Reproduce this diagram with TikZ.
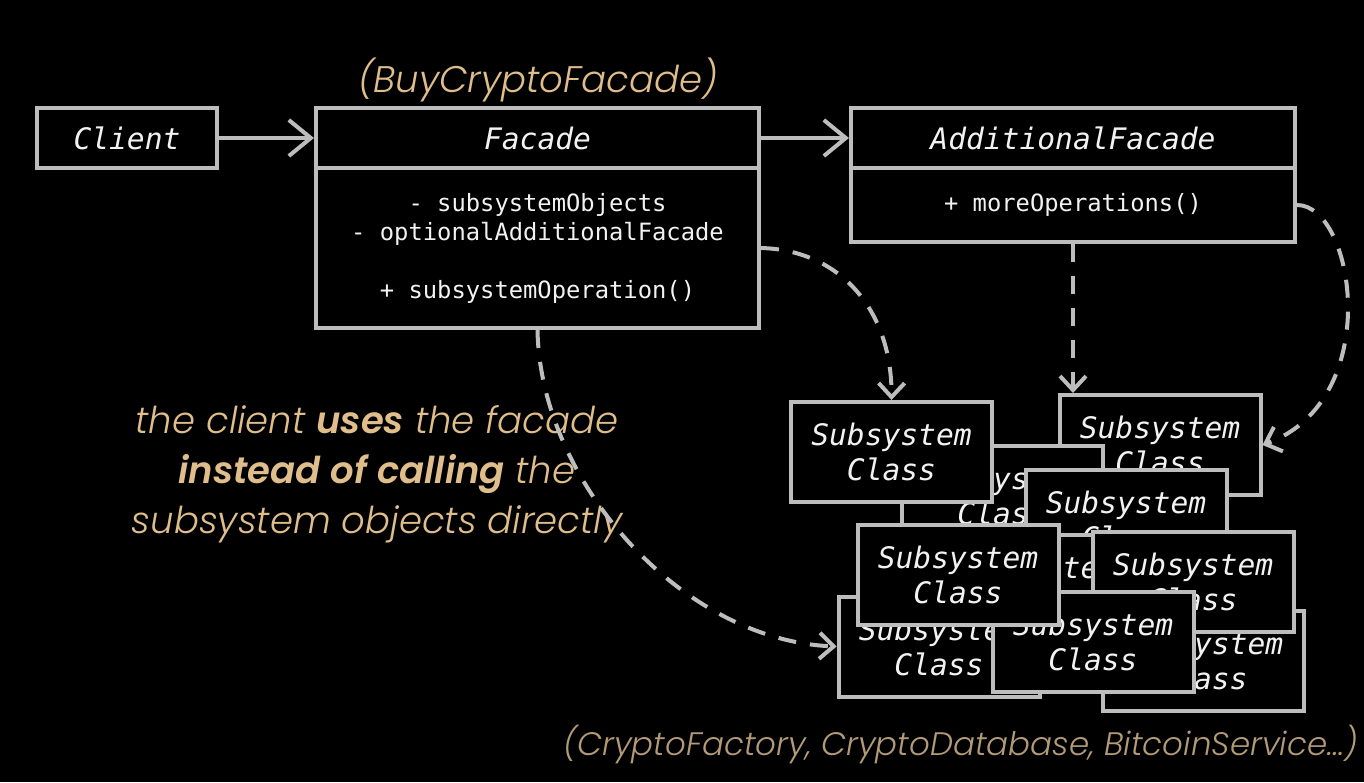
\documentclass[tikz,border=0pt]{standalone}
\usepackage{fontspec}
\setmonofont{DejaVu Sans Mono}
\newfontfamily\tanfont{Poppins Light}[ItalicFont={Poppins Light Italic}, BoldItalicFont={Poppins SemiBold Italic}]
\usetikzlibrary{arrows.meta}
\definecolor{boxgray}{HTML}{BDBDBD}
\definecolor{txtwhite}{HTML}{F2F2F2}
\definecolor{tanc}{HTML}{E0BE8C}
\definecolor{tandim}{HTML}{B39B78}
\begin{document}
\begin{tikzpicture}[x=1pt,y=-1pt,
  umlbox/.style={draw=boxgray, line width=4pt, fill=black, inner sep=0pt, text=txtwhite},
  titlefont/.style={font=\ttfamily\itshape\fontsize{29.6}{35}\selectfont},
  bodyfont/.style={font=\ttfamily\fontsize{23.8}{29}\selectfont},
  subbox/.style={umlbox, titlefont, minimum width=201pt, minimum height=100pt, align=center},
  solidarrow/.style={draw=boxgray, line width=4pt, -{Straight Barb[length=22pt,width=36pt,line width=4pt]}},
  dasharrow/.style={draw=boxgray, line width=4pt, dash pattern=on 18pt off 14pt, -{Straight Barb[length=14pt,width=26pt,line width=4pt]}},
  tantext/.style={text=tanc, font=\tanfont\itshape\fontsize{37}{50}\selectfont, inner sep=0pt}
]
\fill[black] (0,0) rectangle (1364,782);
\useasboundingbox (0,0) rectangle (1364,782);

% top row
\node[umlbox, titlefont, minimum width=180pt, minimum height=60pt] (client) at (127,138) {Client};
\node[umlbox, titlefont, minimum width=443pt, minimum height=60pt] (fhead) at (537.5,138) {Facade};
\node[umlbox, bodyfont, minimum width=443pt, minimum height=160pt, align=center] (fbody) at (537.5,248)
  {- subsystemObjects\\- optionalAdditionalFacade\\[29pt]+ subsystemOperation()};
\node[umlbox, titlefont, minimum width=444pt, minimum height=60pt] (ahead) at (1073,138) {AdditionalFacade};
\node[umlbox, bodyfont, minimum width=444pt, minimum height=74pt] (abody) at (1073,205) {+ moreOperations()};

\node[tantext] (buy) at (538,80) {(BuyCryptoFacade)};

% subsystem classes, back to front
\node[subbox] (box10) at (1203,661) {Subsystem\\Class};
\node[subbox] (box3) at (1160,445) {Subsystem\\Class};
\node[subbox] (box2) at (1002,496) {Subsystem\\Class};
\node[subbox] (box4) at (1126,520) {Subsystem\\Class};
\node[subbox] (box5) at (1036,585) {Subsystem\\Class};
\node[subbox] (box8) at (939,646.5) {Subsystem\\Class};
\node[subbox] (box7) at (1193,581.5) {Subsystem\\Class};
\node[subbox] (box9) at (1093,642) {Subsystem\\Class};
\node[subbox] (box6) at (958,575) {Subsystem\\Class};
\node[subbox] (box1) at (891.5,452) {Subsystem\\Class};

% texts
\node[tantext, align=center] (note) at (377,474)
  {the client \textbf{uses} the facade\\\textbf{instead of calling} the\\subsystem objects directly};
\node[tantext, text=tandim, font=\tanfont\itshape\fontsize{32.5}{40}\selectfont] (subs) at (961,745)
  {(CryptoFactory, CryptoDatabase, BitcoinService…)};

% connectors
\draw[solidarrow] (client.east) -- (fhead.west);
\draw[solidarrow] (fhead.east) -- (ahead.west);
\draw[dasharrow] (fbody.east) .. controls (840,250) and (892,310) .. (box1.north);
\draw[dasharrow] (abody.south) -- (abody.south |- box3.north);
\draw[dasharrow] (abody.east) .. controls (1355,205) and (1385,400) .. (box3.east);
\draw[dasharrow] (fbody.south) .. controls (540,480) and (680,640) .. (box8.west);
\end{tikzpicture}
\end{document}
